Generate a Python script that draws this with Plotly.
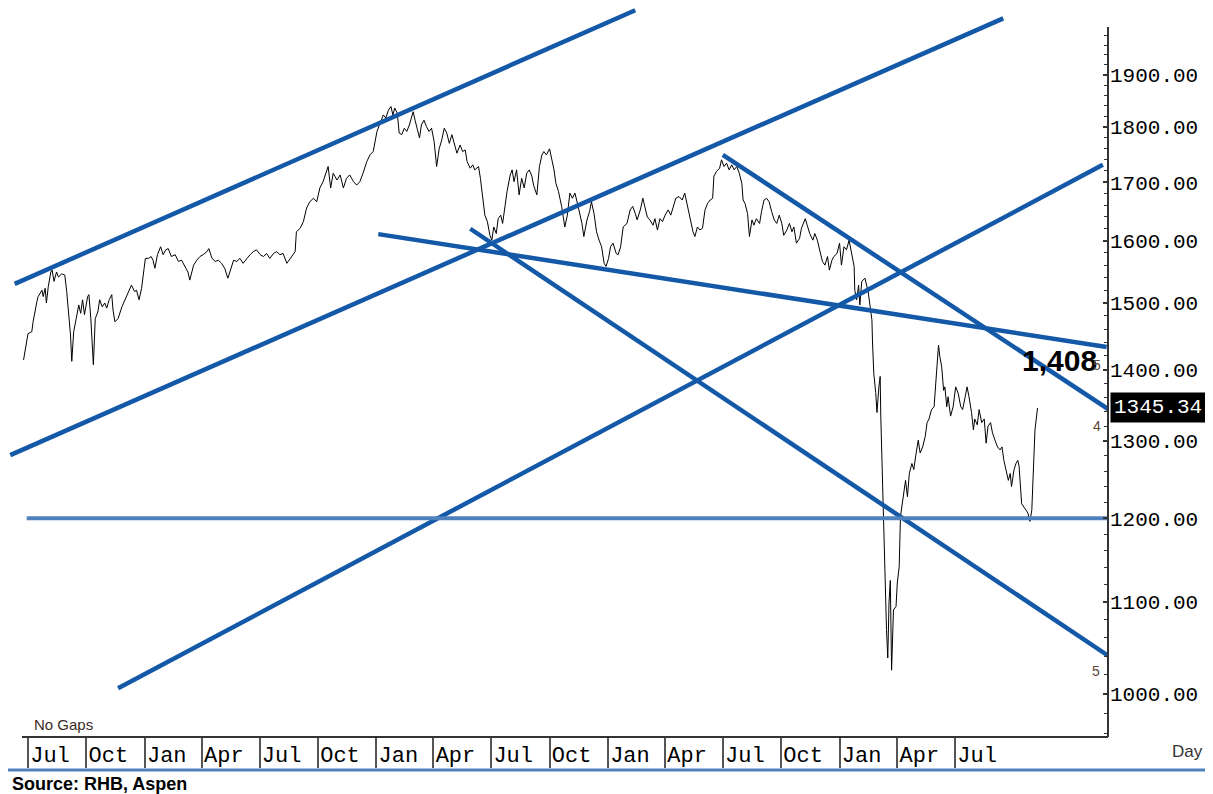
import math
import plotly.graph_objects as go

# ---------------- data ----------------
dates = [
    "2016-06-24","2016-06-29","2016-07-01","2016-07-07","2016-07-09","2016-07-15","2016-07-17","2016-07-23",
    "2016-07-25","2016-07-28","2016-07-30","2016-08-02","2016-08-06","2016-08-08","2016-08-11","2016-08-15",
    "2016-08-18","2016-08-23","2016-08-28","2016-08-31","2016-09-02","2016-09-06","2016-09-08","2016-09-11",
    "2016-09-15","2016-09-19","2016-09-22","2016-09-25","2016-09-28","2016-10-03","2016-10-05","2016-10-08",
    "2016-10-12","2016-10-15","2016-10-19","2016-10-22","2016-10-26","2016-10-30","2016-11-02","2016-11-06",
    "2016-11-10","2016-11-12","2016-11-15","2016-11-20","2016-11-26","2016-12-01","2016-12-04","2016-12-09",
    "2016-12-11","2016-12-16","2016-12-19","2016-12-23","2016-12-27","2016-12-31","2017-01-02","2017-01-07",
    "2017-01-11","2017-01-14","2017-01-17","2017-01-21","2017-01-26","2017-01-30","2017-02-03","2017-02-07",
    "2017-02-12","2017-02-18","2017-02-23","2017-02-28","2017-03-05","2017-03-10","2017-03-13","2017-03-19",
    "2017-03-24","2017-03-29","2017-04-03","2017-04-09","2017-04-12","2017-04-17","2017-04-22","2017-04-27",
    "2017-05-02","2017-05-07","2017-05-12","2017-05-15","2017-05-21","2017-05-26","2017-05-31","2017-06-05",
    "2017-06-11","2017-06-16","2017-06-21","2017-06-26","2017-07-02","2017-07-07","2017-07-12","2017-07-17",
    "2017-07-23","2017-07-28","2017-08-02","2017-08-07","2017-08-13","2017-08-18","2017-08-23","2017-08-26",
    "2017-08-28","2017-09-03","2017-09-08","2017-09-13","2017-09-18","2017-09-24","2017-09-29","2017-10-04",
    "2017-10-09","2017-10-15","2017-10-17","2017-10-21","2017-10-25","2017-10-31","2017-11-05","2017-11-10",
    "2017-11-15","2017-11-20","2017-11-26","2017-12-01","2017-12-06","2017-12-11","2017-12-17","2017-12-22",
    "2017-12-27","2018-01-02","2018-01-07","2018-01-12","2018-01-16","2018-01-20","2018-01-24","2018-01-27",
    "2018-01-30","2018-02-03","2018-02-06","2018-02-10","2018-02-14","2018-02-18","2018-02-22","2018-02-26",
    "2018-02-28","2018-03-03","2018-03-07","2018-03-10","2018-03-13","2018-03-17","2018-03-21","2018-03-25",
    "2018-03-29","2018-04-02","2018-04-06","2018-04-10","2018-04-14","2018-04-18","2018-04-22","2018-04-26",
    "2018-04-30","2018-05-03","2018-05-08","2018-05-13","2018-05-17","2018-05-21","2018-05-24","2018-05-29",
    "2018-06-02","2018-06-05","2018-06-11","2018-06-14","2018-06-18","2018-06-21","2018-06-25","2018-06-29",
    "2018-07-02","2018-07-05","2018-07-09","2018-07-12","2018-07-16","2018-07-19","2018-07-23","2018-07-26",
    "2018-07-31","2018-08-03","2018-08-06","2018-08-10","2018-08-14","2018-08-18","2018-08-22","2018-08-26",
    "2018-08-30","2018-09-03","2018-09-06","2018-09-11","2018-09-15","2018-09-19","2018-09-22","2018-09-26",
    "2018-10-01","2018-10-04","2018-10-08","2018-10-11","2018-10-15","2018-10-20","2018-10-25","2018-10-29",
    "2018-11-02","2018-11-06","2018-11-10","2018-11-15","2018-11-21","2018-11-24","2018-11-29","2018-12-03",
    "2018-12-06","2018-12-10","2018-12-14","2018-12-18","2018-12-22","2018-12-26","2018-12-29","2019-01-02",
    "2019-01-05","2019-01-09","2019-01-14","2019-01-17","2019-01-21","2019-01-25","2019-01-31","2019-02-05",
    "2019-02-09","2019-02-13","2019-02-16","2019-02-21","2019-02-25","2019-02-28","2019-03-04","2019-03-08",
    "2019-03-13","2019-03-16","2019-03-20","2019-03-24","2019-03-28","2019-04-01","2019-04-06","2019-04-10",
    "2019-04-14","2019-04-18","2019-04-23","2019-04-28","2019-05-02","2019-05-06","2019-05-10","2019-05-15",
    "2019-05-18","2019-05-22","2019-05-26","2019-05-30","2019-06-03","2019-06-07","2019-06-11","2019-06-15",
    "2019-06-17","2019-06-21","2019-06-26","2019-06-29","2019-07-03","2019-07-07","2019-07-11","2019-07-15",
    "2019-07-19","2019-07-23","2019-07-27","2019-07-31","2019-08-02","2019-08-05","2019-08-09","2019-08-12",
    "2019-08-16","2019-08-19","2019-08-23","2019-08-28","2019-08-31","2019-09-04","2019-09-08","2019-09-12",
    "2019-09-16","2019-09-20","2019-09-24","2019-09-28","2019-10-02","2019-10-05","2019-10-10","2019-10-14",
    "2019-10-18","2019-10-21","2019-10-25","2019-10-30","2019-11-02","2019-11-08","2019-11-11","2019-11-15",
    "2019-11-20","2019-11-23","2019-11-27","2019-12-01","2019-12-05","2019-12-09","2019-12-13","2019-12-16",
    "2019-12-20","2019-12-23","2019-12-28","2020-01-01","2020-01-04","2020-01-08","2020-01-12","2020-01-16",
    "2020-01-20","2020-01-24","2020-01-25","2020-01-28","2020-01-31","2020-02-02","2020-02-05","2020-02-10",
    "2020-02-15","2020-02-18","2020-02-21","2020-02-22","2020-02-24","2020-02-27","2020-02-29","2020-03-03",
    "2020-03-05","2020-03-06","2020-03-08","2020-03-10","2020-03-13","2020-03-15","2020-03-17","2020-03-19",
    "2020-03-21","2020-03-23","2020-03-26","2020-03-30","2020-04-01","2020-04-04","2020-04-06","2020-04-11",
    "2020-04-14","2020-04-17","2020-04-20","2020-04-24","2020-04-27","2020-04-30","2020-05-04","2020-05-07",
    "2020-05-11","2020-05-15","2020-05-18","2020-05-21","2020-05-25","2020-05-29","2020-06-01","2020-06-05",
    "2020-06-07","2020-06-10","2020-06-13","2020-06-15","2020-06-18","2020-06-20","2020-06-24","2020-06-28",
    "2020-07-02","2020-07-06","2020-07-10","2020-07-13","2020-07-17","2020-07-20","2020-07-23","2020-07-27",
    "2020-07-30","2020-08-01","2020-08-05","2020-08-08","2020-08-12","2020-08-16","2020-08-19","2020-08-22",
    "2020-08-26","2020-08-29","2020-09-02","2020-09-06","2020-09-10","2020-09-13","2020-09-16","2020-09-19",
    "2020-09-23","2020-09-26","2020-09-28","2020-10-02","2020-10-05","2020-10-08","2020-10-10","2020-10-14",
    "2020-10-18","2020-10-21","2020-10-24","2020-10-27","2020-10-30","2020-11-01","2020-11-04","2020-11-08",
]
close = [
    1414,1441,1453,1456,1471,1502,1510,1520,1510,1523,1500,1526,1549,1552,1534,1549,
    1541,1546,1544,1518,1497,1451,1412,1456,1476,1497,1484,1505,1482,1510,1513,1476,
    1407,1476,1486,1505,1494,1500,1492,1505,1513,1489,1471,1476,1494,1505,1513,1523,
    1528,1518,1520,1505,1523,1555,1571,1571,1574,1568,1555,1577,1590,1577,1585,1587,
    1574,1577,1566,1568,1558,1549,1536,1560,1568,1574,1577,1582,1587,1571,1566,1568,
    1563,1555,1539,1549,1568,1566,1571,1563,1571,1577,1582,1585,1577,1574,1579,1571,
    1579,1582,1577,1579,1563,1571,1579,1582,1615,1621,1632,1655,1666,1672,1666,1690,
    1701,1719,1728,1690,1716,1704,1713,1690,1707,1713,1701,1695,1701,1716,1737,1749,
    1755,1792,1807,1823,1817,1832,1839,1823,1836,1826,1789,1786,1798,1792,1804,1820,
    1829,1813,1795,1780,1804,1813,1801,1792,1798,1774,1728,1760,1776,1798,1789,1770,
    1786,1774,1752,1767,1755,1758,1737,1725,1731,1722,1728,1707,1666,1643,1632,1609,
    1601,1623,1612,1637,1643,1629,1660,1684,1713,1722,1701,1722,1678,1707,1690,1716,
    1722,1711,1694,1678,1728,1749,1755,1749,1760,1745,1722,1698,1684,1658,1623,1643,
    1681,1672,1681,1658,1629,1607,1635,1649,1666,1646,1615,1601,1590,1563,1558,1571,
    1590,1596,1579,1577,1590,1623,1629,1652,1658,1646,1635,1652,1672,1658,1640,1635,
    1626,1637,1618,1637,1632,1643,1652,1643,1660,1672,1675,1669,1681,1660,1643,1615,
    1607,1623,1618,1621,1652,1663,1669,1672,1711,1719,1725,1740,1728,1734,1722,1731,
    1722,1728,1716,1698,1669,1663,1646,1607,1635,1626,1637,1629,1649,1669,1672,1666,
    1649,1635,1629,1643,1629,1609,1618,1629,1615,1623,1596,1604,1621,1637,1626,1612,
    1601,1612,1601,1585,1566,1560,1574,1552,1568,1574,1579,1596,1560,1590,1585,1601,
    1577,1558,1520,1505,1528,1497,1534,1539,1518,1494,1474,1439,1394,1367,1339,1375,
    1390,1334,1270,1186,1126,1069,1038,1100,1125,1025,1091,1095,1122,1141,1202,1227,
    1248,1227,1257,1270,1262,1280,1301,1284,1292,1306,1325,1330,1343,1347,1380,1436,
    1419,1404,1370,1375,1347,1361,1334,1347,1375,1366,1347,1343,1361,1375,1361,1339,
    1315,1330,1322,1343,1325,1330,1297,1320,1325,1311,1301,1292,1288,1292,1274,1262,
    1248,1257,1240,1262,1270,1274,1266,1218,1214,1210,1206,1196,1210,1253,1315,1345.34,
]

# trendlines drawn on the chart (start/end date and level)
trend_start_dates = ["2016-06-10", "2016-06-03", "2016-11-20", "2018-01-04", "2019-07-01", "2018-05-29"]
trend_start_values = [1530, 1281, 1006, 1611, 1749, 1620]
trend_end_dates = ["2019-02-13", "2020-09-15", "2021-02-19", "2021-02-25", "2021-03-04", "2021-03-07"]
trend_end_values = [2032, 2015, 1731, 1433, 1341, 1037]

support_dates = ["2016-06-29", "2021-02-27"]
support_level = 1200

last_close = 1345.34
target_level_label = "1,408"

tick_dates = ["2016-07-01", "2016-10-01", "2017-01-01", "2017-04-01", "2017-07-01", "2017-10-01",
              "2018-01-01", "2018-04-01", "2018-07-01", "2018-10-01", "2019-01-01", "2019-04-01",
              "2019-07-01", "2019-10-01", "2020-01-01", "2020-04-01", "2020-07-01"]
tick_text = ["Jul", "Oct", "Jan", "Apr", "Jul", "Oct", "Jan", "Apr", "Jul", "Oct",
             "Jan", "Apr", "Jul", "Oct", "Jan", "Apr", "Jul"]
y_ticks = [1000, 1100, 1200, 1300, 1400, 1500, 1600, 1700, 1800, 1900]
y_minor = [v for v in range(960, 2000, 20) if v % 100 != 0]

# ---------------- figure ----------------
TREND_BLUE = "#1459a8"
SUPPORT_BLUE = "#4f81bd"
MONO = "Liberation Mono, DejaVu Sans Mono, monospace"
SANS = "Liberation Sans, Arial, sans-serif"

fig = go.Figure()

fig.add_trace(go.Scatter(x=dates, y=close, mode="lines",
                         line=dict(color="black", width=1), hoverinfo="skip"))

for sd, sv, ed, ev in zip(trend_start_dates, trend_start_values, trend_end_dates, trend_end_values):
    fig.add_trace(go.Scatter(x=[sd, ed], y=[sv, ev], mode="lines",
                             line=dict(color=TREND_BLUE, width=4.5), hoverinfo="skip"))

fig.add_trace(go.Scatter(x=support_dates, y=[support_level, support_level], mode="lines",
                         line=dict(color=SUPPORT_BLUE, width=4), hoverinfo="skip"))

# page has an 8px body margin; the figure is sized to fit in the window
OFF = 8
W, H = 1205, 786
L, R, T, B = 0, 105, 0, 57
pw, ph = W - L - R, H - T - B


def px(page_x):
    return (page_x - OFF - L) / pw


def py(page_y):
    return (H - B - (page_y - OFF)) / ph


fig.update_layout(
    width=W, height=H,
    margin=dict(l=L, r=R, t=T, b=B),
    paper_bgcolor="white", plot_bgcolor="white",
    showlegend=False,
    xaxis=dict(
        type="date",
        range=["2016-05-30 11:30", "2021-02-27 02:00"],
        tickmode="array", tickvals=tick_dates, ticktext=tick_text,
        ticks="outside", ticklen=30, tickwidth=1.5, tickcolor="#555555",
        tickfont=dict(family=MONO, size=22, color="black"),
        ticklabelshift=22, ticklabelstandoff=-32,
        showgrid=False, zeroline=False, showline=False,
    ),
    yaxis=dict(
        type="log", side="right",
        range=[2.980636, 3.308926],
        tickmode="array", tickvals=y_ticks, ticktext=[f"{v:.2f}" for v in y_ticks],
        ticks="inside", ticklen=5, tickwidth=1.5, tickcolor="#333333",
        minor=dict(tickmode="array", tickvals=y_minor, ticks="inside", ticklen=4,
                   tickwidth=1.2, tickcolor="#333333", showgrid=False),
        tickfont=dict(family=MONO, size=21, color="black"),
        ticklabelstandoff=1,
        showgrid=False, zeroline=False, showline=False,
    ),
)

# axis lines and source rule
fig.add_shape(type="line", xref="paper", yref="paper", x0=px(22), x1=1, y0=0, y1=0,
              line=dict(color="#333333", width=2))
fig.add_shape(type="line", xref="paper", yref="paper", x0=1, x1=1, y0=0, y1=py(27),
              line=dict(color="#333333", width=2))
fig.add_shape(type="line", xref="paper", yref="paper", x0=0, x1=px(1213), y0=py(770), y1=py(770),
              line=dict(color=SUPPORT_BLUE, width=3))

# last close box
fig.add_annotation(xref="paper", yref="y", x=1, y=math.log10(last_close), xanchor="left",
                   yanchor="middle", xshift=2, text=f"{last_close:.2f}", showarrow=False,
                   bgcolor="black", borderpad=3, font=dict(family=MONO, size=21, color="white"))
# target label
fig.add_annotation(xref="paper", yref="paper", x=px(1059), y=py(360), xanchor="center",
                   yanchor="middle", text=f"<b>{target_level_label}</b>",
                   showarrow=False, font=dict(family=SANS, size=30, color="black"))
# small wave labels
for lab, xx, yy in [("5", 1096.5, 365), ("4", 1096.5, 426), ("5", 1096, 671)]:
    fig.add_annotation(xref="paper", yref="paper", x=px(xx), y=py(yy), xanchor="center",
                       yanchor="middle", text=lab, showarrow=False,
                       font=dict(family=SANS, size=14, color="#5b4636"))

fig.add_annotation(xref="paper", yref="paper", x=px(32), y=py(724), xanchor="left", yanchor="middle",
                   text="No Gaps", showarrow=False, font=dict(family=SANS, size=15, color="#3c2b26"))
fig.add_annotation(xref="paper", yref="paper", x=px(1187), y=py(751), xanchor="center", yanchor="middle",
                   text="Day", showarrow=False, font=dict(family=SANS, size=17, color="#333333"))
fig.add_annotation(xref="paper", yref="paper", x=px(10), y=py(784), xanchor="left", yanchor="middle",
                   text="<b>Source: RHB, Aspen</b>", showarrow=False,
                   font=dict(family=SANS, size=18, color="black"))

fig.write_html("out.html")
